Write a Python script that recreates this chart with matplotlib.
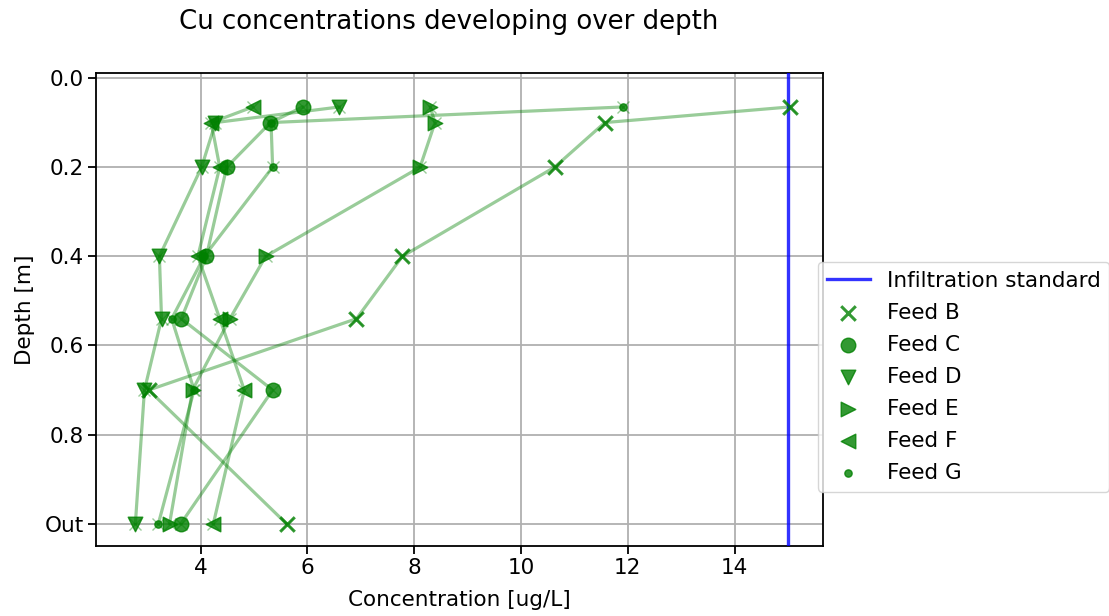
import numpy as np
import matplotlib
matplotlib.use("Agg")
from matplotlib import pyplot as plt

# depth of each sampling point, 1.0 = outlet ("Out")
depth = [0.065, 0.10, 0.20, 0.40, 0.54, 0.70, 1.00]

feed_b = [15.03, 11.57, 10.63, 7.78, 6.92, 3.03, 5.61]
feed_c = [5.91, 5.31, 4.49, 4.11, 3.64, 5.35, 3.63]
feed_d = [6.60, 4.28, 4.02, 3.23, 3.27, 2.95, 2.78]
feed_e = [8.30, 8.39, 8.11, 5.22, 4.55, 3.85, 3.42]
feed_f = [4.98, 4.20, 4.36, 3.95, 4.36, 4.82, 4.24]
feed_g = [11.91, 5.32, 5.35, 4.07, 3.46, 3.88, 3.21]

infiltration_standard = 15.0

feeds = ["Feed B", "Feed C", "Feed D", "Feed E", "Feed F", "Feed G"]
valores = [feed_b, feed_c, feed_d, feed_e, feed_f, feed_g]
marcadores = ["x", "o", "v", ">", "<", "."]

y_ticks = [0.0, 0.2, 0.4, 0.6, 0.8, 1.0]
y_labels = ["0.0", "0.2", "0.4", "0.6", "0.8", "Out"]

fig = plt.figure(figsize=(11.09, 6.16), dpi=100)
ax = fig.add_axes([96 / 1109, 1 - 545.5 / 616, (823.3 - 96) / 1109, (545.5 - 73.3) / 616])

ax.axvline(infiltration_standard, color="blue", alpha=0.8, linewidth=2.4,
           label="Infiltration standard", zorder=3)

# lineas de cada feed (con marcas x tenues)
for v in valores:
    ax.plot(v, depth, marker="x", markersize=8, color="green", alpha=0.4,
            linewidth=2.3, zorder=2)

# marcadores de cada feed
for nombre, v, m in zip(feeds, valores, marcadores):
    ax.scatter(v, depth, marker=m, s=110, color="green", alpha=0.8,
               label=nombre, zorder=4, linewidths=2.2 if m == "x" else 1)

ax.set_xlim(2.043, 15.66)
ax.set_ylim(1.0487, -0.0105)
ax.set_yticks(y_ticks)
ax.set_yticklabels(y_labels)
ax.set_xticks([4, 6, 8, 10, 12, 14])
ax.tick_params(labelsize=15.5, width=1.3, length=5.5)
for sp in ax.spines.values():
    sp.set_linewidth(1.3)
ax.grid(True, color="#b0b0b0", linewidth=1.3)
ax.set_axisbelow(True)

ax.set_xlabel("Concentration [ug/L]", fontsize=15.5, labelpad=9)
ax.set_ylabel("Depth [m]", fontsize=15.5, labelpad=7)
fig.text(449 / 1109, 1 - 22 / 616, "Cu concentrations developing over depth",
         fontsize=18.7, ha="center", va="center")

ax.legend(loc="upper left", bbox_to_anchor=(818 / 1109, 1 - 262 / 616),
          bbox_transform=fig.transFigure, borderaxespad=0, fontsize=15.5,
          handlelength=2.0, labelspacing=0.56)

plt.savefig("out.png", dpi=100)
